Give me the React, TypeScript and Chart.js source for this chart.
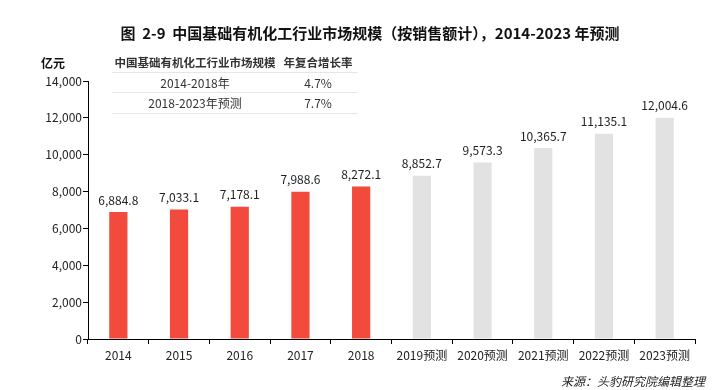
import React, { useEffect, useRef } from "react";
import { Chart, registerables } from "chart.js";

Chart.register(...registerables);

const categories = ["2014", "2015", "2016", "2017", "2018", "2019预测", "2020预测", "2021预测", "2022预测", "2023预测"];
const values = [6884.8, 7033.1, 7178.1, 7988.6, 8272.1, 8852.7, 9573.3, 10365.7, 11135.1, 12004.6];
const isForecast = [false, false, false, false, false, true, true, true, true, true];
const yTicks = [0, 2000, 4000, 6000, 8000, 10000, 12000, 14000];
const tableHeader = ["中国基础有机化工行业市场规模", "年复合增长率"];
const tablePeriods = ["2014-2018年", "2018-2023年预测"];
const tableRates = ["4.7%", "7.7%"];

const TITLE = "图  2-9  中国基础有机化工行业市场规模（按销售额计），2014-2023 年预测";
const UNIT = "亿元";
const SOURCE = "来源：头豹研究院编辑整理";

const RED = "#F24A3C";
const GRAY = "#E2E2E2";
const FONT = "'Noto Sans CJK SC', 'Noto Sans', sans-serif";

const fmt = (v: number) =>
  v.toLocaleString("en-US", { minimumFractionDigits: 1, maximumFractionDigits: 1 });
const fmtTick = (v: number) => v.toLocaleString("en-US");

const labelPlugin = {
  id: "barLabels",
  afterDatasetsDraw(chart: any) {
    const ctx = chart.ctx;
    const meta = chart.getDatasetMeta(0);
    ctx.save();
    ctx.font = `12px ${FONT}`;
    ctx.fillStyle = "#222";
    ctx.textAlign = "center";
    ctx.textBaseline = "bottom";
    meta.data.forEach((bar: any, i: number) => {
      ctx.fillText(fmt(values[i]), bar.x, bar.y - 6);
    });
    ctx.restore();
  },
};

export default function App() {
  const ref = useRef<HTMLCanvasElement | null>(null);

  useEffect(() => {
    if (!ref.current) return;
    const chart = new Chart(ref.current, {
      type: "bar",
      data: {
        labels: categories,
        datasets: [
          {
            data: values,
            backgroundColor: isForecast.map((f) => (f ? GRAY : RED)),
            barPercentage: 0.3,
            categoryPercentage: 1,
          },
        ],
      },
      options: {
        responsive: false,
        animation: false,
        layout: { padding: { left: 0, right: 19, top: 81, bottom: 0 } },
        plugins: {
          legend: { display: false },
          title: { display: false },
          tooltip: { enabled: false },
        },
        scales: {
          x: {
            offset: true,
            grid: {
              offset: true,
              drawOnChartArea: false,
              drawTicks: true,
              tickLength: 5,
              color: "#000",
            },
            border: { display: true, color: "#000", width: 1 },
            ticks: {
              color: "#222",
              font: { size: 12, family: FONT },
              padding: 4,
              maxRotation: 0,
              autoSkip: false,
            },
            afterFit: (scale: any) => {
              scale.height = 51;
            },
          },
          y: {
            min: 0,
            max: 14000,
            afterBuildTicks: (scale: any) => {
              scale.ticks = yTicks.map((v) => ({ value: v }));
            },
            grid: {
              drawOnChartArea: false,
              drawTicks: true,
              tickLength: 5,
              color: "#000",
            },
            border: { display: true, color: "#000", width: 1 },
            ticks: {
              color: "#222",
              font: { size: 12, family: FONT },
              padding: 1,
              callback: (v: any) => fmtTick(Number(v)),
            },
            afterFit: (scale: any) => {
              scale.width = 88;
            },
          },
        },
      },
      plugins: [labelPlugin],
    });
    return () => chart.destroy();
  }, []);

  const cellStyle: React.CSSProperties = {
    position: "absolute",
    transform: "translate(-50%, -50%)",
    whiteSpace: "nowrap",
    fontFamily: FONT,
    fontSize: 12,
    color: "#333",
  };

  const lineStyle = (top: number): React.CSSProperties => ({
    position: "absolute",
    left: 112,
    width: 246,
    top,
    height: 1,
    background: "#E6E6E6",
  });

  return (
    <div style={{ position: "absolute", left: 0, top: 0, width: 714, height: 390, background: "#fff", overflow: "hidden" }}>
      <canvas ref={ref} width={714} height={390} style={{ position: "absolute", left: 0, top: 0 }} />
      <div
        style={{
          position: "absolute",
          left: 370,
          top: 32,
          transform: "translate(-50%, -50%)",
          whiteSpace: "pre",
          fontFamily: FONT,
          fontWeight: 700,
          fontSize: 15,
          color: "#111",
        }}
      >
        {TITLE}
      </div>
      <div style={{ ...cellStyle, left: 53, top: 62, fontWeight: 700, color: "#111" }}>{UNIT}</div>
      <div style={{ ...cellStyle, left: 195, top: 62, fontWeight: 700, fontSize: 11.5 }}>{tableHeader[0]}</div>
      <div style={{ ...cellStyle, left: 318, top: 62, fontWeight: 700, fontSize: 11.5 }}>{tableHeader[1]}</div>
      <div style={lineStyle(72)} />
      <div style={{ ...cellStyle, left: 195, top: 82 }}>{tablePeriods[0]}</div>
      <div style={{ ...cellStyle, left: 318, top: 82 }}>{tableRates[0]}</div>
      <div style={lineStyle(92)} />
      <div style={{ ...cellStyle, left: 195, top: 102 }}>{tablePeriods[1]}</div>
      <div style={{ ...cellStyle, left: 318, top: 102 }}>{tableRates[1]}</div>
      <div style={lineStyle(113)} />
      <div
        style={{
          position: "absolute",
          right: 9,
          top: 380,
          transform: "translateY(-50%)",
          whiteSpace: "nowrap",
          fontFamily: FONT,
          fontStyle: "italic",
          fontSize: 12,
          color: "#222",
        }}
      >
        {SOURCE}
      </div>
    </div>
  );
}
